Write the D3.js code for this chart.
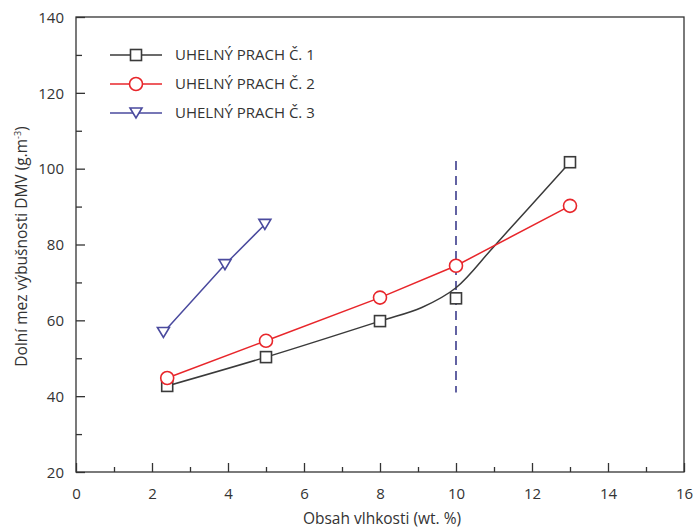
<!DOCTYPE html>
<html><head><meta charset="utf-8">
<script src="https://cdn.jsdelivr.net/npm/d3@7"></script>
<style>body{margin:0;background:#fff}</style>
</head><body>
<svg id="c" width="696" height="529"></svg>
<script>
// ---- data ----
const seriesNames = ["UHELNÝ PRACH Č. 1", "UHELNÝ PRACH Č. 2", "UHELNÝ PRACH Č. 3"];
const s1x = [2.4, 5, 8, 10, 13];
const s1y = [42.7, 50.3, 59.8, 65.8, 101.7];
// smoothed trend line drawn for series 1
const fit1x = [2.4, 5, 8, 9.1, 10, 11, 13];
const fit1y = [42.7, 50.3, 59.8, 63.4, 68.6, 79.5, 101.7];
const s2x = [2.4, 5, 8, 10, 13];
const s2y = [44.8, 54.6, 66.0, 74.4, 90.2];
const s3x = [2.3, 3.92, 4.97];
const s3y = [56.8, 74.7, 85.3];
const refX = 10, refY = [41, 102];
const xTicks = [0, 2, 4, 6, 8, 10, 12, 14, 16];
const yTicks = [20, 40, 60, 80, 100, 120, 140];
const xLabel = "Obsah vlhkosti (wt. %)";
const yLabel = "Dolní mez výbušnosti DMV (g.m";

const svg = d3.select("#c");
const L = 76, R = 684, T = 17, B = 472;
const x = d3.scaleLinear().domain([0, 16]).range([L, R]);
const y = d3.scaleLinear().domain([20, 140]).range([B, T]);
const font = "'Open Sans', sans-serif";
const axisCol = "#333";

// frame
svg.append("rect").attr("x", L).attr("y", T).attr("width", R - L).attr("height", B - T)
  .attr("fill", "none").attr("stroke", axisCol).attr("stroke-width", 1.3);

// ticks (inside)
const xAx = svg.append("g").attr("transform", `translate(0,${B})`)
  .call(d3.axisBottom(x).tickValues(xTicks).tickSize(-9).tickPadding(16).tickFormat(d3.format("d")));
const xMin = svg.append("g").attr("transform", `translate(0,${B})`)
  .call(d3.axisBottom(x).tickValues(d3.range(1, 16, 2)).tickSize(-5).tickFormat(""));
const yAx = svg.append("g").attr("transform", `translate(${L},0)`)
  .call(d3.axisLeft(y).tickValues(yTicks).tickSize(-9).tickPadding(12).tickFormat(d3.format("d")));
const yMin = svg.append("g").attr("transform", `translate(${L},0)`)
  .call(d3.axisLeft(y).tickValues(d3.range(30, 140, 20)).tickSize(-6).tickFormat(""));
[xAx, xMin, yAx, yMin].forEach(g => {
  g.select(".domain").remove();
  g.selectAll("line").attr("stroke", axisCol).attr("stroke-width", 1.3);
  g.selectAll("text").attr("font-family", font).attr("font-size", 15).attr("fill", axisCol);
});
yAx.selectAll("text").attr("dy", "0.35em");

// axis labels
svg.append("text").attr("x", (L + R) / 2 + 2).attr("y", 524).attr("text-anchor", "middle")
  .attr("font-family", font).attr("font-size", 15.5).attr("fill", axisCol).text(xLabel);
const yl = svg.append("text").attr("transform", `translate(27,${(T + B) / 2 + 2}) rotate(-90)`)
  .attr("text-anchor", "middle").attr("font-family", font).attr("font-size", 15.5).attr("fill", axisCol);
yl.append("tspan").text(yLabel);
yl.append("tspan").attr("font-size", 9).attr("dy", -6).text("-3");
yl.append("tspan").attr("dy", 6).text(")");

const cols = ["#3a3a3a", "#e8262b", "#4a4a9e"];

// reference dashed line
svg.append("line").attr("x1", x(refX)).attr("x2", x(refX)).attr("y1", y(refY[1])).attr("y2", y(refY[0]))
  .attr("stroke", "#3c3c8c").attr("stroke-width", 1.6).attr("stroke-dasharray", "9,6");

// lines
const zip = (a, b) => a.map((v, i) => [v, b[i]]);
const smooth = d3.line().x(d => x(d[0])).y(d => y(d[1])).curve(d3.curveCatmullRom.alpha(0.5));
const straight = d3.line().x(d => x(d[0])).y(d => y(d[1]));
svg.append("path").attr("d", smooth(zip(fit1x, fit1y))).attr("fill", "none").attr("stroke", cols[0]).attr("stroke-width", 1.5);
svg.append("path").attr("d", straight(zip(s2x, s2y))).attr("fill", "none").attr("stroke", cols[1]).attr("stroke-width", 1.5);
svg.append("path").attr("d", straight(zip(s3x, s3y))).attr("fill", "none").attr("stroke", cols[2]).attr("stroke-width", 1.5);

// markers
function marker(g, type, cx, cy, col) {
  if (type === 0) g.append("rect").attr("x", cx - 5.5).attr("y", cy - 5.5).attr("width", 11).attr("height", 11)
    .attr("fill", "#fff").attr("stroke", col).attr("stroke-width", 1.6);
  else if (type === 1) g.append("circle").attr("cx", cx).attr("cy", cy).attr("r", 6.5)
    .attr("fill", "#fff").attr("stroke", col).attr("stroke-width", 1.6);
  else g.append("path").attr("d", `M${cx - 6},${cy - 5}L${cx + 6},${cy - 5}L${cx},${cy + 5}Z`)
    .attr("fill", "#fff").attr("stroke", col).attr("stroke-width", 1.6);
}
const mg = svg.append("g");
zip(s1x, s1y).forEach(d => marker(mg, 0, x(d[0]), y(d[1]), cols[0]));
zip(s2x, s2y).forEach(d => marker(mg, 1, x(d[0]), y(d[1]), cols[1]));
zip(s3x, s3y).forEach(d => marker(mg, 2, x(d[0]), y(d[1]), cols[2]));

// legend
const lg = svg.append("g");
const ly = [55, 84, 113];
seriesNames.forEach((n, i) => {
  lg.append("line").attr("x1", 110).attr("x2", 162).attr("y1", ly[i]).attr("y2", ly[i])
    .attr("stroke", cols[i]).attr("stroke-width", 1.5);
  marker(lg, i, 136, ly[i], cols[i]);
  lg.append("text").attr("x", 175).attr("y", ly[i]).attr("dy", "0.36em")
    .attr("font-family", font).attr("font-size", 15).attr("fill", axisCol).text(n);
});
</script>
</body></html>
